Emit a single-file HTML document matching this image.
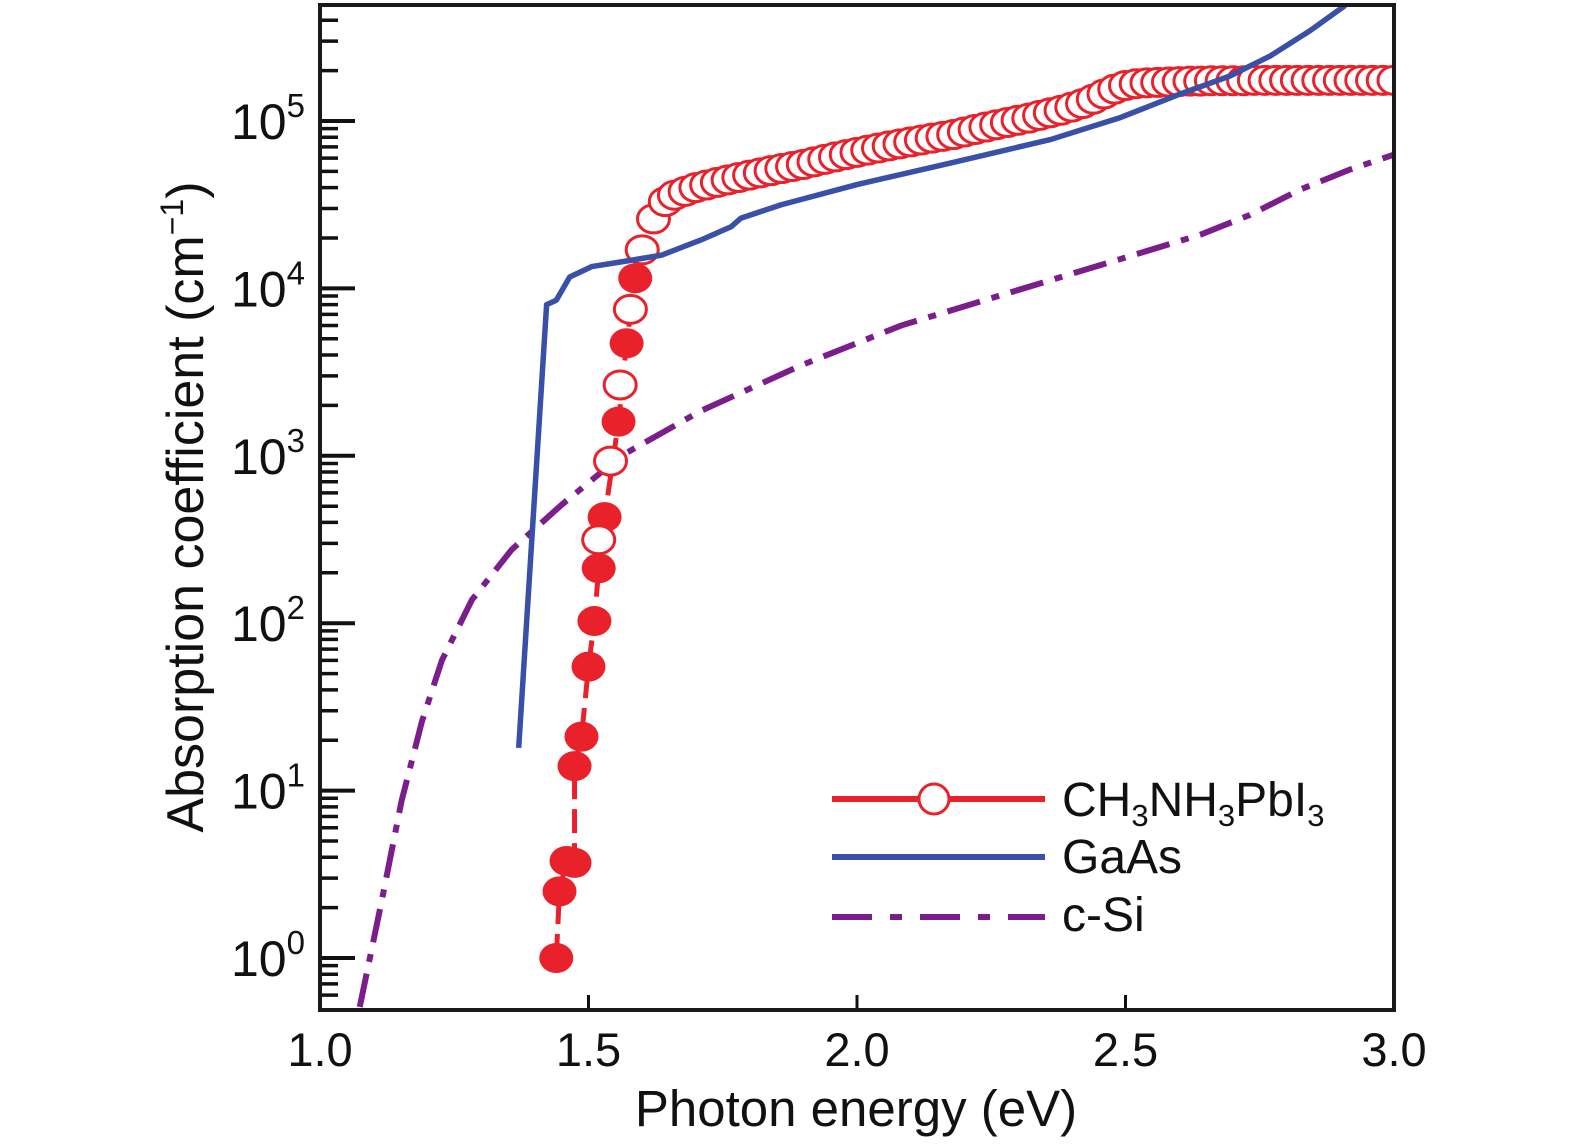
<!DOCTYPE html>
<html><head><meta charset="utf-8"><style>
body{margin:0;background:#fff;overflow:hidden;}
svg{display:block;font-family:"Liberation Sans",sans-serif;}
</style></head><body>
<svg id="chart" width="1575" height="1148" viewBox="0 0 1575 1148" xmlns="http://www.w3.org/2000/svg"></svg>
<script>
// ---- data ----
const xTicks=[1.0,1.5,2.0,2.5,3.0];
const xTickLabels=["1.0","1.5","2.0","2.5","3.0"];
const yDecades=[0,1,2,3,4,5];
// CH3NH3PbI3 filled points (eV, alpha)
const perovFilledE=[1.440,1.446,1.459,1.474,1.474,1.487,1.500,1.511,1.519,1.530,1.556,1.571,1.587];
const perovFilledA=[1.0,2.5,3.8,3.7,14,21,55,103,213,430,1600,4700,11500];
// CH3NH3PbI3 open points
const perovOpenE=[1.519,1.541,1.559,1.578,1.600,1.621,1.643,1.66,1.68,1.70,1.72,1.74,1.76,1.78,1.80,1.82,1.84,1.86,1.88,1.90,1.92,1.94,1.96,1.98,2.00,2.02,2.04,2.06,2.08,2.10,2.12,2.14,2.16,2.18,2.20,2.22,2.24,2.26,2.28,2.30,2.32,2.34,2.36,2.38,2.40,2.42,2.44,2.46,2.48,2.50,2.52,2.54,2.56,2.58,2.60,2.62,2.64,2.66,2.68,2.70,2.72,2.74,2.76,2.78,2.80,2.82,2.84,2.86,2.88,2.90,2.92,2.94,2.96,2.98,3.00];
const perovOpenA=[315,930,2650,7500,17000,26000,33000,36000,38000,40000,41500,43000,44500,46000,47500,49000,50500,52000,53500,55000,57000,59000,61000,63000,65000,67000,69000,71000,73000,75000,77000,79000,81000,83000,86000,89000,92000,95000,98000,101000,104000,108000,112000,116000,121000,127000,135000,145000,155000,163000,167000,169000,170000,171000,172000,173000,173000,174000,174000,174000,174000,175000,175000,175000,175000,175000,175000,175000,175000,175000,175000,175000,175000,175000,175000];
// GaAs
const gaasE=[1.370,1.422,1.440,1.465,1.506,1.561,1.636,1.710,1.766,1.784,1.859,2.000,2.175,2.361,2.491,2.602,2.695,2.770,2.844,2.909];
const gaasA=[18,8000,8500,11700,13500,14400,15800,19500,23400,26300,31600,41700,56200,77600,105000,145000,186000,245000,347000,490000];
// c-Si
const siE=[1.074,1.115,1.152,1.190,1.227,1.283,1.357,1.450,1.561,1.710,1.896,2.082,2.268,2.454,2.639,2.732,2.825,2.918,3.000];
const siA=[0.51,2.2,8.7,26,60,138,275,510,1000,1860,3470,6000,9100,13800,20900,27500,38900,51300,63000];

// ---- axes ----
const X0=320,X1=1394,Y0=1010,YTOP=5;
const e0=1.0,e1=3.0, decPx=167.4, yBase=958;
const sx=e=>X0+(e-e0)/(e1-e0)*(X1-X0);
const sy=a=>yBase-Math.log10(a)*decPx;
const NS="http://www.w3.org/2000/svg";
const svg=document.getElementById('chart');
function mk(tag,attrs,parent){const el=document.createElementNS(NS,tag);for(const k in attrs)el.setAttribute(k,attrs[k]);(parent||svg).appendChild(el);return el;}

const defs=mk('defs',{});
const cp=mk('clipPath',{id:'plotclip'},defs);
mk('rect',{x:X0,y:YTOP,width:X1-X0,height:Y0-YTOP},cp);

// y ticks
const yTickG=mk('g',{});


for(let d=-1;d<=5;d++){
  for(let m=1;m<=9;m++){
    const v=m*Math.pow(10,d);const y=sy(v);
    if(y<YTOP+10||y>Y0-2)continue;
    const len=m===1?35:18;
    mk('line',{x1:X0,x2:X0+len,y1:y,y2:y,stroke:'#111','stroke-width':m===1?4:3.5},yTickG);
  }
}
yDecades.forEach(d=>{
  const t=mk('text',{x:268,y:sy(Math.pow(10,d))+18,'font-size':50,'text-anchor':'middle',fill:'#111'});
  
  
  t.innerHTML='10<tspan dy="-22" font-size="33">'+d+'</tspan>';
});
// x ticks
xTicks.forEach((e,i)=>{
  if(i>0&&i<xTicks.length-1)mk('line',{x1:sx(e),x2:sx(e),y1:Y0,y2:Y0-15,stroke:'#111','stroke-width':3});
  const t=mk('text',{x:sx(e),y:1066,'font-size':47,'text-anchor':'middle',fill:'#111'});
  
  
  t.textContent=xTickLabels[i];
});

// series
const plot=mk('g',{'clip-path':'url(#plotclip)'});


function pts(E,A){return E.map((e,i)=>sx(e)+','+sy(A[i])).join(' ');}
const si=mk('polyline',{points:pts(siE,siA),fill:'none',stroke:'#7b1e8c','stroke-width':6,'stroke-dasharray':'34 12 8 12'},plot);


const pline=mk('polyline',{points:pts(perovFilledE,perovFilledA),fill:'none',stroke:'#e8212b','stroke-width':5,'stroke-dasharray':'24 10'},plot);


perovFilledE.forEach((e,i)=>{
  const c=mk('ellipse',{cx:sx(e),cy:sy(perovFilledA[i]),rx:17,ry:15,fill:'#e8212b'},plot);
  
  
});
perovOpenE.forEach((e,i)=>{
  const c=mk('ellipse',{cx:sx(e),cy:sy(perovOpenA[i]),rx:16,ry:14,fill:'#fff',stroke:'#e8212b','stroke-width':3},plot);
  
  
});
const ga=mk('polyline',{points:pts(gaasE,gaasA),fill:'none',stroke:'#3a4fa8','stroke-width':5.5,'stroke-linejoin':'round'},plot);



// frame
const fr=mk('path',{d:`M${X0},${YTOP} H${X1} V${Y0} H${X0} Z`,fill:'none',stroke:'#1a1a1a','stroke-width':4});



// axis titles
const xt=mk('text',{x:856,y:1126,'font-size':51,'text-anchor':'middle',fill:'#111'});


xt.textContent='Photon energy (eV)';
const yt=mk('text',{x:0,y:0,'font-size':52,'text-anchor':'middle',fill:'#111',transform:'translate(203,507) rotate(-90)'});


yt.innerHTML='Absorption coefficient (cm<tspan dy="-20" font-size="32">−1</tspan><tspan dy="20">)</tspan>';

// legend
const lg=mk('g',{});


mk('line',{x1:832,x2:1045,y1:799,y2:799,stroke:'#e8212b','stroke-width':6},lg);
mk('circle',{cx:934,cy:799,r:15,fill:'#fff',stroke:'#e8212b','stroke-width':3},lg);
mk('line',{x1:832,x2:1045,y1:857,y2:857,stroke:'#3a4fa8','stroke-width':6},lg);
mk('line',{x1:832,x2:1045,y1:917,y2:917,stroke:'#7b1e8c','stroke-width':6,'stroke-dasharray':'40 18 12 18'},lg);
const l1=mk('text',{x:1062,y:816,'font-size':48,fill:'#111'},lg);


l1.innerHTML='CH<tspan dy="10" font-size="31">3</tspan><tspan dy="-10">NH</tspan><tspan dy="10" font-size="31">3</tspan><tspan dy="-10">PbI</tspan><tspan dy="10" font-size="31">3</tspan>';
const l2=mk('text',{x:1062,y:873,'font-size':48,fill:'#111'},lg);


l2.textContent='GaAs';
const l3=mk('text',{x:1062,y:931,'font-size':48,fill:'#111'},lg);


l3.textContent='c-Si';
</script>
</body></html>
